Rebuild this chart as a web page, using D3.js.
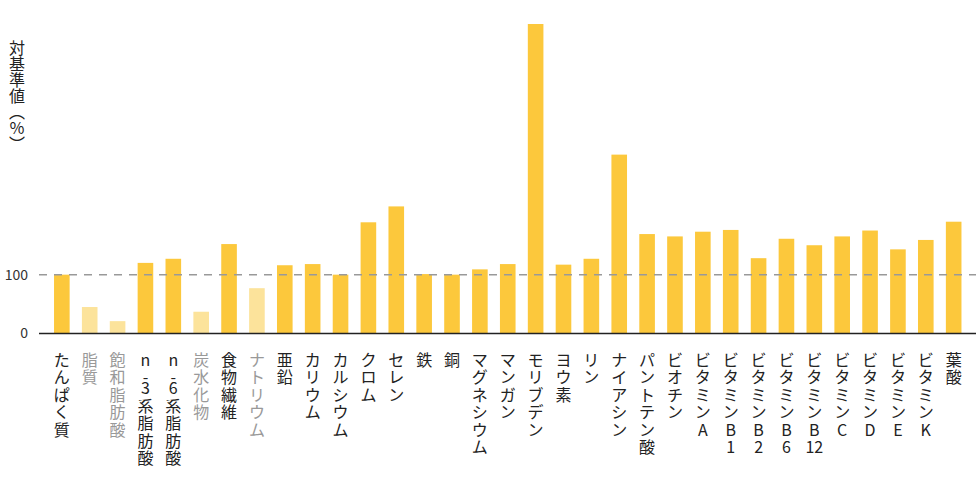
<!DOCTYPE html>
<html>
<head>
<meta charset="utf-8">
<script src="https://cdn.jsdelivr.net/npm/d3@7"></script>
<style>
  body { margin: 0; background: #fff; }
  svg text { font-family: "Noto Sans CJK JP", "Noto Sans", sans-serif; }
</style>
</head>
<body>
<svg id="chart"></svg>
<script>
const nutrients = ["たんぱく質", "脂質", "飽和脂肪酸", "n-3系脂肪酸", "n-6系脂肪酸", "炭水化物", "食物繊維",
    "ナトリウム", "亜鉛", "カリウム", "カルシウム", "クロム", "セレン", "鉄", "銅", "マグネシウム", "マンガン",
    "モリブデン", "ヨウ素", "リン", "ナイアシン", "パントテン酸", "ビオチン", "ビタミンA", "ビタミンB1",
    "ビタミンB2", "ビタミンB6", "ビタミンB12", "ビタミンC", "ビタミンD", "ビタミンE", "ビタミンK", "葉酸"];
const ratios = [100, 45, 21, 120, 127, 37, 152, 77, 116, 118, 100, 189, 216, 101, 100, 109, 118,
    526, 117, 127, 304, 169, 165, 173, 176, 128, 161, 150, 165, 175, 143, 159, 190];
const mutedNutrients = ["脂質", "飽和脂肪酸", "炭水化物", "ナトリウム"];
const yTicks = [0, 100];
const yTitle = "対基準値（％）";

const width = 980, height = 490;
const baseY = 333.5;

const svg = d3.select("#chart")
    .attr("width", width)
    .attr("height", height);

const x = d3.scaleBand()
    .domain(nutrients)
    .range([47.9, 967.6])
    .paddingInner(0.44)
    .paddingOuter(0.22);

const y = d3.scaleLinear()
    .domain([0, 526])
    .range([baseY, 24]);

// bars
svg.append("g")
    .selectAll("rect")
    .data(nutrients)
    .join("rect")
    .attr("x", d => x(d))
    .attr("width", x.bandwidth())
    .attr("y", (d, i) => y(ratios[i]))
    .attr("height", (d, i) => y(0) - y(ratios[i]))
    .attr("fill", d => mutedNutrients.includes(d) ? "#fce39b" : "#fcc83c");

// reference line at 100
svg.append("line")
    .attr("x1", 39).attr("x2", 976)
    .attr("y1", y(100)).attr("y2", y(100))
    .attr("stroke", "#999")
    .attr("stroke-width", 1.5)
    .attr("stroke-dasharray", "8,7");

// baseline
svg.append("line")
    .attr("x1", 39).attr("x2", 976)
    .attr("y1", y(0)).attr("y2", y(0))
    .attr("stroke", "#222")
    .attr("stroke-width", 1.6);

// y axis ticks
const yAxis = d3.axisLeft(y)
    .tickValues(yTicks)
    .tickSize(0)
    .tickPadding(0);

svg.append("g")
    .attr("transform", "translate(28,0)")
    .call(yAxis)
    .call(g => g.select(".domain").remove())
    .call(g => g.selectAll("text")
        .attr("font-size", 14)
        .attr("fill", "#333")
        .style("font-family", "'Noto Sans CJK JP', sans-serif"));

// y title, vertical
svg.append("text")
    .attr("x", 17)
    .attr("y", 40)
    .attr("font-size", 16)
    .attr("fill", "#222")
    .style("writing-mode", "vertical-rl")
    .text(yTitle);

// vertical category labels, one glyph per row (digits kept together)
function tokens(s) {
    return s.match(/\d+|./g);
}

const labelG = svg.append("g");
nutrients.forEach(function(d) {
    let t = labelG.append("text")
        .attr("font-size", 16)
        .attr("text-anchor", "middle")
        .attr("fill", mutedNutrients.includes(d) ? "#999" : "#222");
    let yy = 366;
    tokens(d).forEach(function(tk) {
        t.append("tspan")
            .attr("x", x(d) + x.bandwidth() / 2)
            .attr("y", yy)
            .text(tk);
        yy += tk == "-" ? 11 : 17.4;
    });
});
</script>
</body>
</html>
